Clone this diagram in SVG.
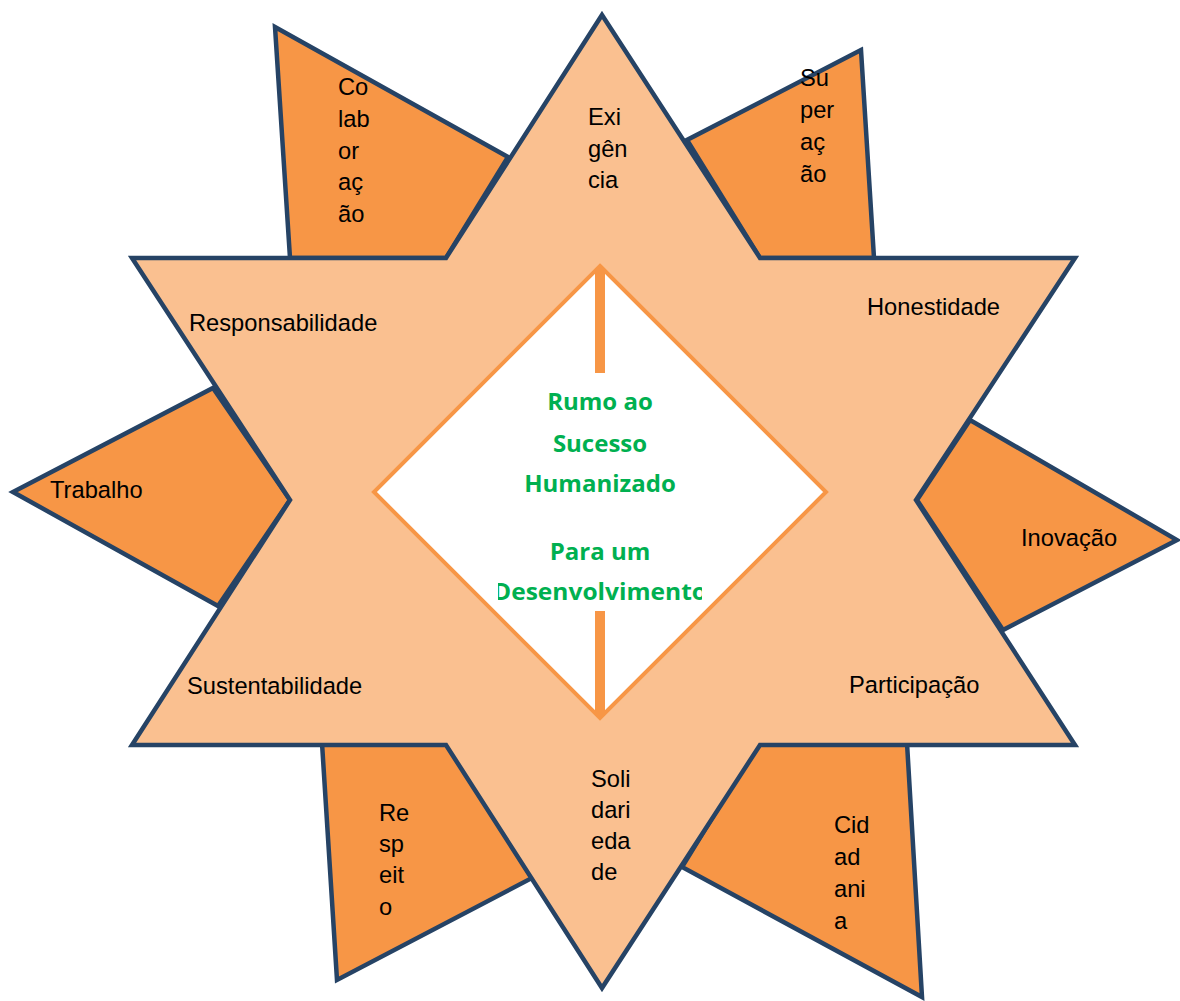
<svg xmlns="http://www.w3.org/2000/svg" width="1180" height="1001" viewBox="0 0 1180 1001">
<style>
.petal{fill:#F79646;stroke:#264365;stroke-width:4.5;stroke-linejoin:miter}
.star{fill:#FAC090;stroke:#264365;stroke-width:4.5;stroke-linejoin:miter}
.lbl{font-family:"Liberation Sans",Arial,sans-serif;font-size:23.7px;fill:#000}
.ctr{font-family:"Open Sans","Noto Sans",sans-serif;font-weight:bold;font-size:24px;fill:#00B050;text-anchor:middle}
</style>
<defs>
<clipPath id="clipDes"><rect x="498" y="570" width="204" height="40"/></clipPath>
</defs>
<rect width="1180" height="1001" fill="#fff"/>
<g id="colaboracao">
<polygon class="petal" points="275,27 508,157 446,258 290,258"/>
<text class="lbl" x="338"><tspan x="338" y="95">Co</tspan><tspan x="338" y="127">lab</tspan><tspan x="338" y="159">or</tspan><tspan x="338" y="190">aç</tspan><tspan x="338" y="222">ão</tspan></text>
</g>
<g id="superacao">
<polygon class="petal" points="861,50 687,140 760,258 874,258"/>
</g>
<g id="trabalho">
<polygon class="petal" points="13,492 213,388 290,500 218,606"/>
</g>
<g id="inovacao">
<polygon class="petal" points="970,420 917,500 1003,630 1177,540"/>
</g>
<g id="respeito">
<polygon class="petal" points="322,743 447,743 532,878 337,980"/>
</g>
<g id="cidadania">
<polygon class="petal" points="758,743 907,743 922,997 682,867"/>
</g>
<g id="star">
<polygon class="star" points="602,15 760,258 1075,258 916,500 1075,745 760,745 602,988 446,745 132,745 290,500 132,258 446,258"/>
</g>
<g id="labels">
<text class="lbl"><tspan x="800" y="86">Su</tspan><tspan x="800" y="118">per</tspan><tspan x="800" y="150">aç</tspan><tspan x="800" y="182">ão</tspan></text>
<text class="lbl" x="50" y="498">Trabalho</text>
<text class="lbl" x="1021" y="546">Inovação</text>
<text class="lbl"><tspan x="379" y="821">Re</tspan><tspan x="379" y="852">sp</tspan><tspan x="379" y="883">eit</tspan><tspan x="379" y="915">o</tspan></text>
<text class="lbl"><tspan x="834" y="833">Cid</tspan><tspan x="834" y="865">ad</tspan><tspan x="834" y="897">ani</tspan><tspan x="834" y="929">a</tspan></text>
<text class="lbl"><tspan x="588" y="125">Exi</tspan><tspan x="588" y="157">gên</tspan><tspan x="588" y="188">cia</tspan></text>
<text class="lbl"><tspan x="591" y="787">Soli</tspan><tspan x="591" y="818">dari</tspan><tspan x="591" y="849">eda</tspan><tspan x="591" y="880">de</tspan></text>
<text class="lbl" x="189" y="331">Responsabilidade</text>
<text class="lbl" x="867" y="315">Honestidade</text>
<text class="lbl" x="187" y="694">Sustentabilidade</text>
<text class="lbl" x="849" y="693">Participação</text>
</g>
<g id="center">
<polygon points="600,266 826,492 600,718 374,492" fill="#fff" stroke="#F79646" stroke-width="4"/>
</g>
<g id="connectors">
<line x1="600" y1="268" x2="600" y2="373" stroke="#F79646" stroke-width="10"/>
<line x1="600" y1="611" x2="600" y2="716" stroke="#F79646" stroke-width="10"/>
</g>
<g id="center-text">
<text class="ctr" x="600" y="410">Rumo ao</text>
<text class="ctr" x="600" y="452">Sucesso</text>
<text class="ctr" x="600" y="492">Humanizado</text>
<text class="ctr" x="600" y="560">Para um</text>
<text class="ctr" x="600" y="600" textLength="214" lengthAdjust="spacingAndGlyphs" clip-path="url(#clipDes)">Desenvolvimento</text>
</g>
</svg>
